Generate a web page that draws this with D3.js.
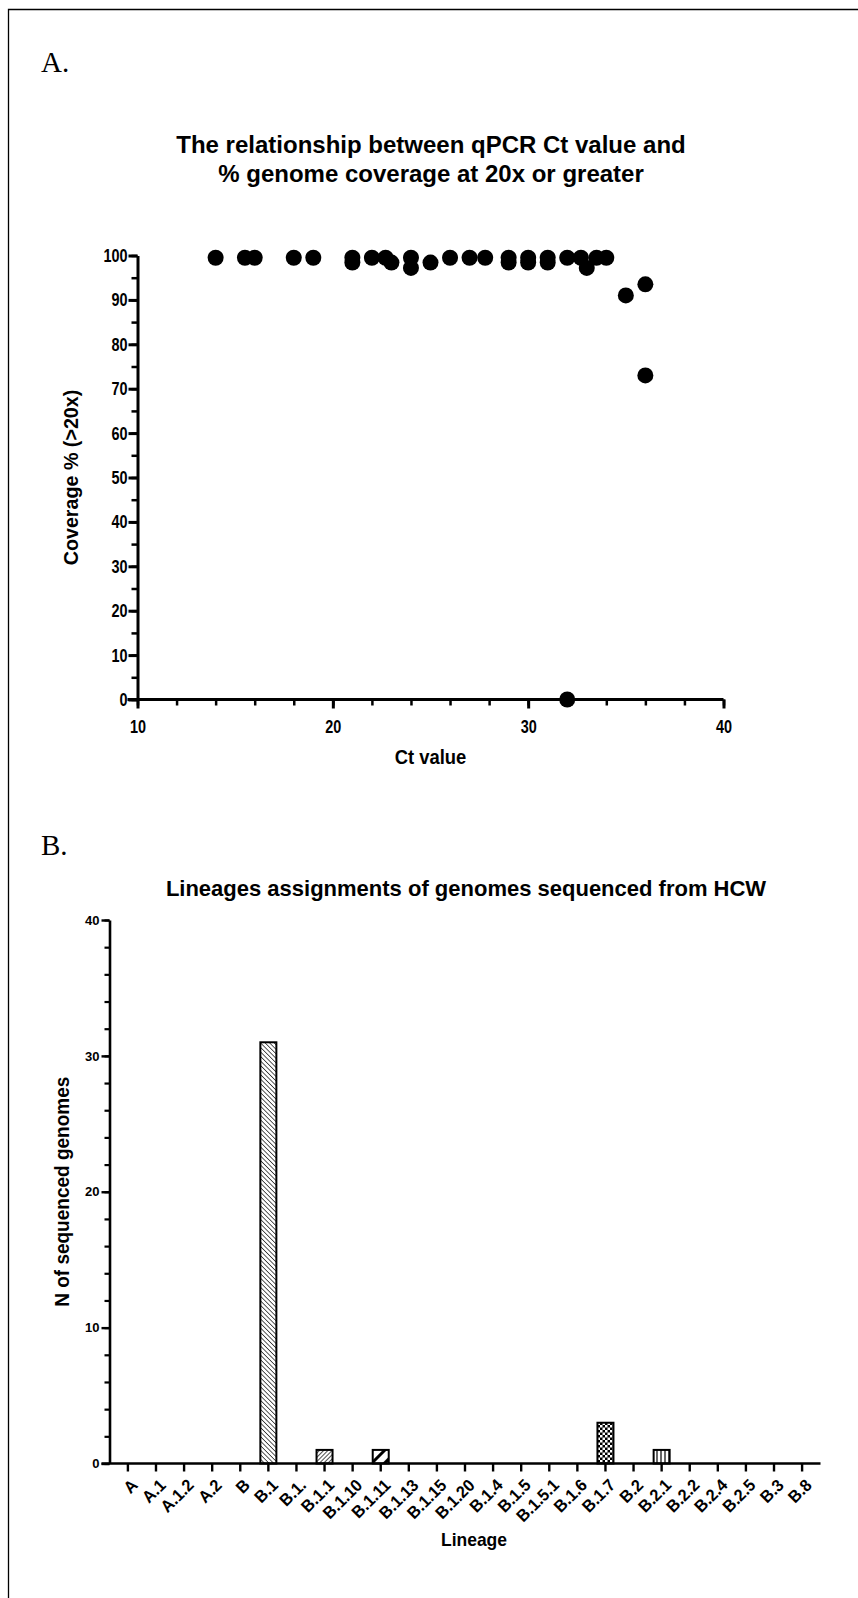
<!DOCTYPE html>
<html>
<head>
<meta charset="utf-8">
<script src="https://cdn.jsdelivr.net/npm/d3@7"></script>
<style>
  body { margin: 0; background: white; }
  svg { display: block; }
  .sans { font-family: "Liberation Sans", Arial, sans-serif; font-weight: bold; }
</style>
</head>
<body>
<div id="fig"></div>
<script>
// Panel A: Ct value vs coverage
const ct_values = [14, 15.5, 16, 18, 19, 21, 21, 22, 22.7, 23, 24, 24, 25, 26, 27, 27.8, 29, 29, 30, 30, 31, 31, 32, 32.7, 33, 33.5, 34, 35, 36, 36, 32];
const coverage = [99.5, 99.5, 99.5, 99.5, 99.5, 99.5, 98.4, 99.5, 99.5, 98.4, 99.5, 97.2, 98.4, 99.5, 99.5, 99.5, 99.5, 98.4, 99.5, 98.4, 99.5, 98.4, 99.5, 99.5, 97.2, 99.5, 99.5, 91, 93.5, 73, 0];
const ct_ticks = [10, 20, 30, 40];
const cov_ticks = [0, 10, 20, 30, 40, 50, 60, 70, 80, 90, 100];

// Panel B: lineage counts
const lineages = ["A", "A.1", "A.1.2", "A.2", "B", "B.1", "B.1.", "B.1.1", "B.1.10", "B.1.11", "B.1.13", "B.1.15", "B.1.20", "B.1.4", "B.1.5", "B.1.5.1", "B.1.6", "B.1.7", "B.2", "B.2.1", "B.2.2", "B.2.4", "B.2.5", "B.3", "B.8"];
const lineage_counts = [0, 0, 0, 0, 0, 31, 0, 1, 0, 1, 0, 0, 0, 0, 0, 0, 0, 3, 0, 1, 0, 0, 0, 0, 0];
const lineage_patterns = {"B.1": "pat_back", "B.1.1": "pat_fwd", "B.1.11": "pat_thick", "B.1.7": "pat_check", "B.2.1": "pat_vert"};
const count_ticks = [0, 10, 20, 30, 40];

// squeeze text horizontally, a stand-in for a narrow bold face
function squeeze(sel, k) {
    sel.each(function () {
        let len = this.getComputedTextLength();
        d3.select(this)
            .attr("textLength", len * k)
            .attr("lengthAdjust", "spacingAndGlyphs");
    });
}

function drawFigure() {
    const W = 858, H = 1598;

    let svg = d3.select("#fig")
        .append("svg")
        .attr("width", W)
        .attr("height", H);

    // hatch patterns
    let defs = svg.append("defs");
    let p = defs.append("pattern").attr("id", "pat_back").attr("patternUnits", "userSpaceOnUse")
        .attr("width", 3.2).attr("height", 3.2).attr("patternTransform", "rotate(-45)");
    p.append("rect").attr("width", 3.2).attr("height", 3.2).attr("fill", "white");
    p.append("line").attr("x1", 0).attr("y1", 0).attr("x2", 0).attr("y2", 3.2).attr("stroke", "#333").attr("stroke-width", 1.6);

    p = defs.append("pattern").attr("id", "pat_fwd").attr("patternUnits", "userSpaceOnUse")
        .attr("width", 3).attr("height", 3).attr("patternTransform", "rotate(45)");
    p.append("rect").attr("width", 3).attr("height", 3).attr("fill", "white");
    p.append("line").attr("x1", 0).attr("y1", 0).attr("x2", 0).attr("y2", 3).attr("stroke", "#222").attr("stroke-width", 1.6);

    p = defs.append("pattern").attr("id", "pat_thick").attr("patternUnits", "userSpaceOnUse")
        .attr("width", 9).attr("height", 9).attr("patternTransform", "rotate(45)");
    p.append("rect").attr("width", 9).attr("height", 9).attr("fill", "white");
    p.append("line").attr("x1", 1.5).attr("y1", 0).attr("x2", 1.5).attr("y2", 9).attr("stroke", "black").attr("stroke-width", 3);

    p = defs.append("pattern").attr("id", "pat_check").attr("patternUnits", "userSpaceOnUse")
        .attr("width", 5).attr("height", 5);
    p.append("rect").attr("width", 5).attr("height", 5).attr("fill", "black");
    p.append("rect").attr("width", 2.5).attr("height", 2.5).attr("fill", "white");
    p.append("rect").attr("x", 2.5).attr("y", 2.5).attr("width", 2.5).attr("height", 2.5).attr("fill", "white");

    p = defs.append("pattern").attr("id", "pat_vert").attr("patternUnits", "userSpaceOnUse")
        .attr("width", 4).attr("height", 4);
    p.append("rect").attr("width", 4).attr("height", 4).attr("fill", "white");
    p.append("line").attr("x1", 1).attr("y1", 0).attr("x2", 1).attr("y2", 4).attr("stroke", "black").attr("stroke-width", 1.2);

    // frame (left and top edges are what shows)
    svg.append("path")
        .attr("d", "M8.5," + H + " V9.5 H" + W)
        .attr("fill", "none")
        .attr("stroke", "black")
        .attr("stroke-width", 1.3);

    // ---------- Panel A ----------
    svg.append("text")
        .attr("x", 41).attr("y", 72)
        .style("font-family", "'Liberation Serif', 'Times New Roman', serif")
        .style("font-size", "29px")
        .text("A.");

    let titleA = svg.append("text")
        .attr("class", "sans")
        .attr("text-anchor", "middle")
        .style("font-size", "24px");
    titleA.append("tspan").attr("x", 431).attr("y", 153).text("The relationship between qPCR Ct value and");
    titleA.append("tspan").attr("x", 431).attr("y", 182).text("% genome coverage at 20x or greater");

    let xA = d3.scaleLinear().domain([10, 40]).range([137.5, 723.5]);
    let yA = d3.scaleLinear().domain([0, 100]).range([699.5, 255.5]);

    // minor ticks
    svg.append("g")
        .attr("transform", "translate(0," + yA(0) + ")")
        .call(d3.axisBottom(xA).tickValues(d3.range(10, 41, 2)).tickSize(6).tickFormat(""))
        .call(g => g.select(".domain").remove())
        .selectAll("line").attr("stroke-width", 2.5);
    svg.append("g")
        .attr("transform", "translate(" + xA(10) + ",0)")
        .call(d3.axisLeft(yA).tickValues(d3.range(0, 101, 5)).tickSize(6).tickFormat(""))
        .call(g => g.select(".domain").remove())
        .selectAll("line").attr("stroke-width", 2.5);

    let axA_x = svg.append("g")
        .attr("transform", "translate(0," + yA(0) + ")")
        .call(d3.axisBottom(xA).tickValues(ct_ticks).tickSize(9).tickSizeOuter(0).tickPadding(11));
    let axA_y = svg.append("g")
        .attr("transform", "translate(" + xA(10) + ",0)")
        .call(d3.axisLeft(yA).tickValues(cov_ticks).tickSize(9).tickSizeOuter(0).tickPadding(1));
    [axA_x, axA_y].forEach(function (ax) {
        ax.select(".domain").attr("stroke-width", 3);
        ax.selectAll(".tick line").attr("stroke-width", 3);
        ax.selectAll("text")
            .attr("class", "sans")
            .style("font-size", "19px")
            .attr("fill", "black")
            .call(squeeze, 0.76);
    });
    axA_x.select(".domain").attr("d", "M" + (xA(10) - 10) + ",0H" + xA(40));

    svg.append("text")
        .attr("class", "sans")
        .attr("text-anchor", "middle")
        .attr("x", (xA(10) + xA(40)) / 2)
        .attr("y", 764)
        .style("font-size", "20px")
        .text("Ct value")
        .call(squeeze, 0.92);

    svg.append("text")
        .attr("class", "sans")
        .attr("text-anchor", "middle")
        .attr("transform", "translate(78," + yA(50) + ") rotate(-90)")
        .style("font-size", "20.5px")
        .text("Coverage % (>20x)")
        .call(squeeze, 0.96);

    svg.append("g")
        .selectAll("circle")
        .data(ct_values)
        .join("circle")
        .attr("cx", (d) => xA(d))
        .attr("cy", (d, i) => yA(coverage[i]))
        .attr("r", 8)
        .attr("fill", "black");

    // ---------- Panel B ----------
    svg.append("text")
        .attr("x", 41).attr("y", 855)
        .style("font-family", "'Liberation Serif', 'Times New Roman', serif")
        .style("font-size", "29px")
        .text("B.");

    svg.append("text")
        .attr("class", "sans")
        .attr("text-anchor", "middle")
        .attr("x", 466)
        .attr("y", 896)
        .style("font-size", "22px")
        .text("Lineages assignments of genomes sequenced from HCW");

    let xB = d3.scaleBand()
        .domain(lineages)
        .range([109.5, 820.5])
        .paddingInner(0.43)
        .paddingOuter(0.37);
    let yB = d3.scaleLinear().domain([0, 40]).range([1463.5, 920]);

    svg.append("g")
        .attr("transform", "translate(" + xB.range()[0] + ",0)")
        .call(d3.axisLeft(yB).tickValues(d3.range(0, 41, 2)).tickSize(5).tickFormat(""))
        .call(g => g.select(".domain").remove())
        .selectAll("line").attr("stroke-width", 2.2);

    svg.append("g")
        .selectAll("rect")
        .data(lineages)
        .join("rect")
        .attr("x", (d) => xB(d))
        .attr("y", (d, i) => yB(lineage_counts[i]))
        .attr("width", xB.bandwidth())
        .attr("height", (d, i) => yB(0) - yB(lineage_counts[i]))
        .attr("fill", (d) => lineage_patterns[d] ? "url(#" + lineage_patterns[d] + ")" : "white")
        .attr("stroke", "black")
        .attr("stroke-width", 2)
        .style("display", (d, i) => lineage_counts[i] > 0 ? null : "none");

    let axB_x = svg.append("g")
        .attr("transform", "translate(0," + yB(0) + ")")
        .call(d3.axisBottom(xB).tickSize(8).tickSizeOuter(0));
    axB_x.select(".domain").attr("d", "M" + (xB.range()[0] - 8) + ",0H" + xB.range()[1]).attr("stroke-width", 2.6);
    axB_x.selectAll(".tick line").attr("stroke-width", 2.4);
    axB_x.selectAll("text")
        .attr("class", "sans")
        .style("font-size", "17px")
        .attr("fill", "black")
        .attr("text-anchor", "end")
        .attr("dy", null)
        .attr("transform", "translate(3,15) rotate(-45)")
        .call(squeeze, 0.95);

    let axB_y = svg.append("g")
        .attr("transform", "translate(" + xB.range()[0] + ",0)")
        .call(d3.axisLeft(yB).tickValues(count_ticks).tickSize(8).tickSizeOuter(0).tickPadding(2));
    axB_y.select(".domain").attr("stroke-width", 2.6);
    axB_y.selectAll(".tick line").attr("stroke-width", 2.4);
    axB_y.selectAll("text")
        .attr("class", "sans")
        .style("font-size", "13px")
        .attr("fill", "black");

    svg.append("text")
        .attr("class", "sans")
        .attr("text-anchor", "middle")
        .attr("x", 474)
        .attr("y", 1546)
        .style("font-size", "19px")
        .text("Lineage")
        .call(squeeze, 0.92);

    svg.append("text")
        .attr("class", "sans")
        .attr("text-anchor", "middle")
        .attr("transform", "translate(69," + yB(20) + ") rotate(-90)")
        .style("font-size", "20px")
        .text("N of sequenced genomes")
        .call(squeeze, 0.95);
}
drawFigure();
</script>
</body>
</html>
